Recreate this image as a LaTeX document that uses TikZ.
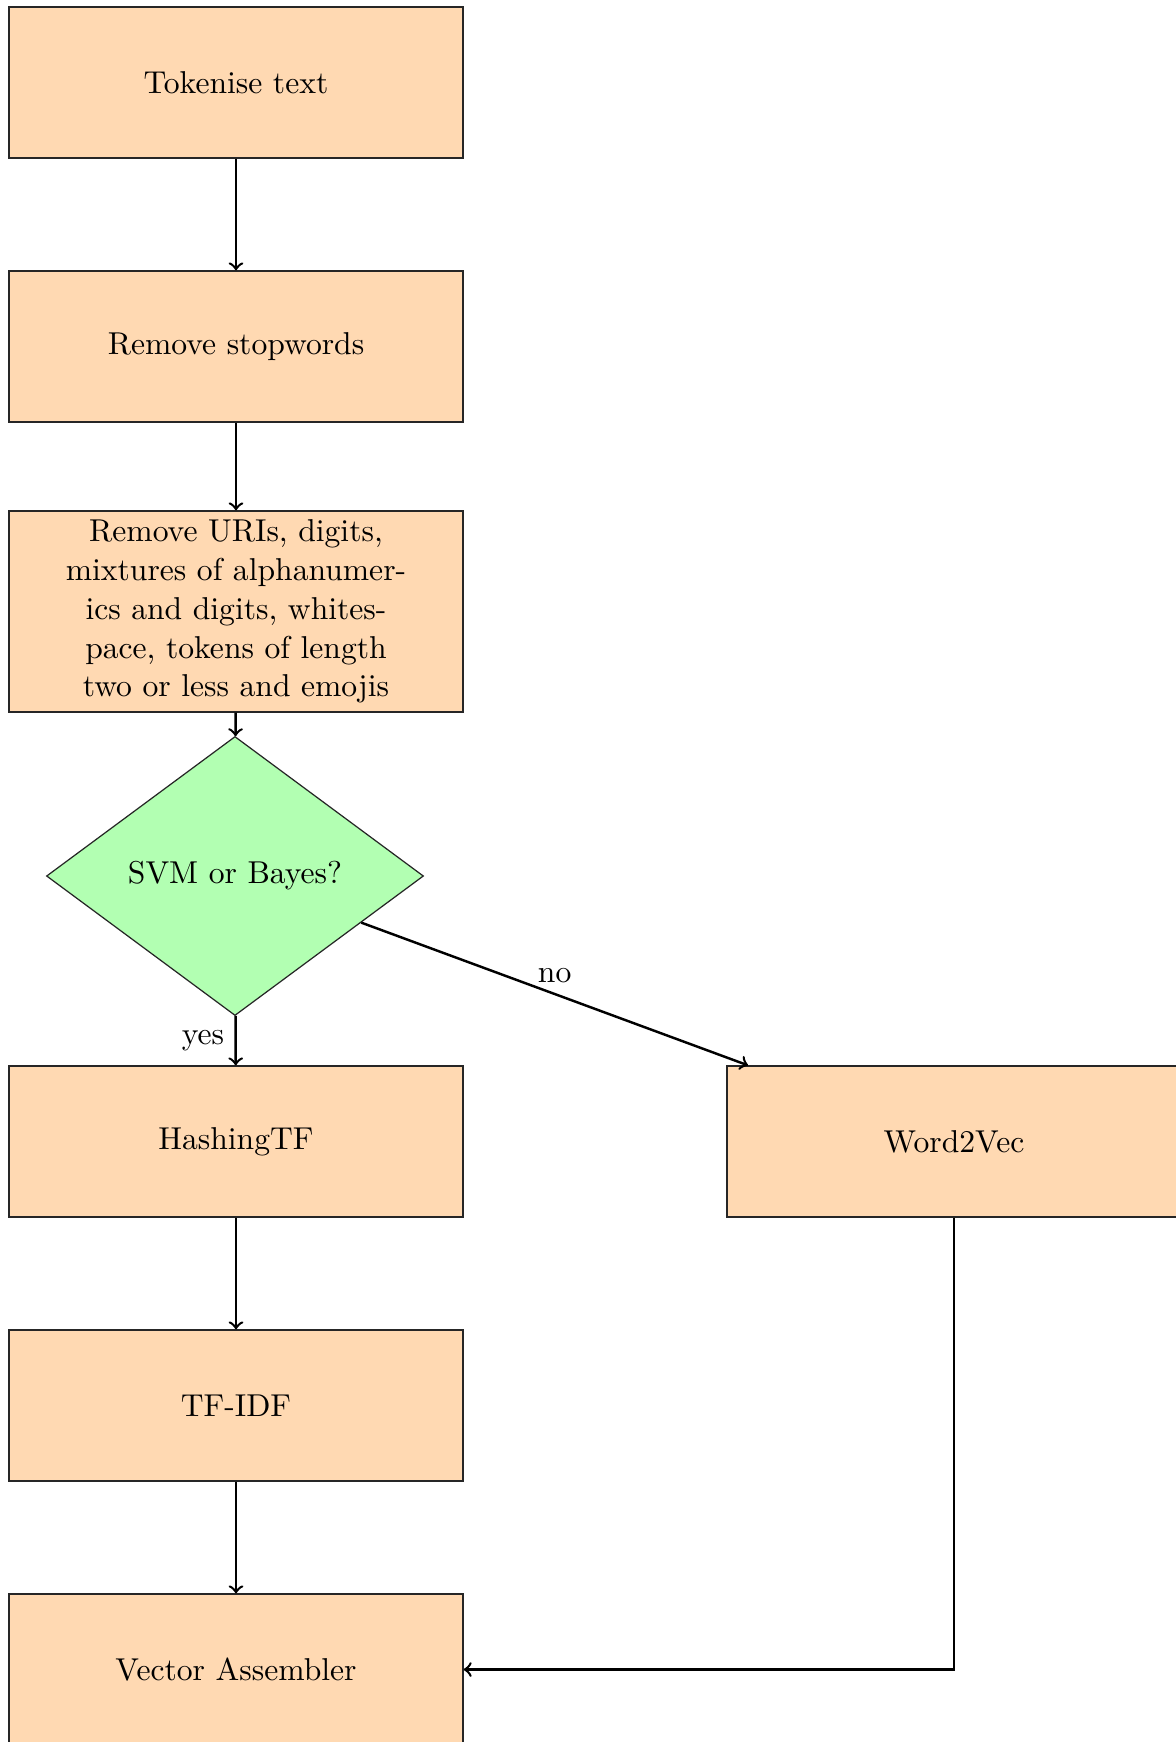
\documentclass[tikz,border=0pt]{standalone}
\usetikzlibrary{shapes.geometric}
\begin{document}
\begin{tikzpicture}[x=0.3257pt,y=-0.3257pt,
  every node/.style={font=\fontsize{10.3pt}{12.65pt}\selectfont},
  stepbox/.style={rectangle, draw=black!85, fill=orange!30, minimum width=147.9pt,
    minimum height=49.2pt, inner sep=0pt, align=center},
  decision/.style={diamond, draw=black!85, fill=green!30, minimum width=122.8pt,
    minimum height=90.9pt, inner sep=0pt},
  flow/.style={->, thick}]
\clip (0,0) rectangle (1176,1742);

% processing steps
\node[stepbox] (tok)  at (236,82.5)   {Tokenise text};
\node[stepbox] (stop) at (236,346.5)  {Remove stopwords};
\node[stepbox, minimum height=65.5pt] (clean) at (236,611.5)
  {Remove URIs, digits,\\ mixtures of alphanumer-\\ ics and digits, whites-\\
   pace, tokens of length\\ two or less and emojis};
\node[decision] (dec) at (235,876) {SVM or Bayes?};
\node[stepbox] (hash) at (236,1141.5) {HashingTF};
\node[stepbox] (tfidf) at (236,1405.5) {TF-IDF};
\node[stepbox] (va)   at (236,1669.5) {Vector Assembler};
\node[stepbox] (w2v)  at (954,1141.5) {Word2Vec};

% connectors
\draw[flow] (tok) -- (stop);
\draw[flow] (stop) -- (clean);
\draw[flow] (clean) -- (dec);
\draw[flow] (dec) -- node[left] {yes} (hash);
\draw[flow] (dec) -- node[above] {no} (w2v);
\draw[flow] (hash) -- (tfidf);
\draw[flow] (tfidf) -- (va);
\draw[flow] (w2v) |- (va);
\end{tikzpicture}
\end{document}
